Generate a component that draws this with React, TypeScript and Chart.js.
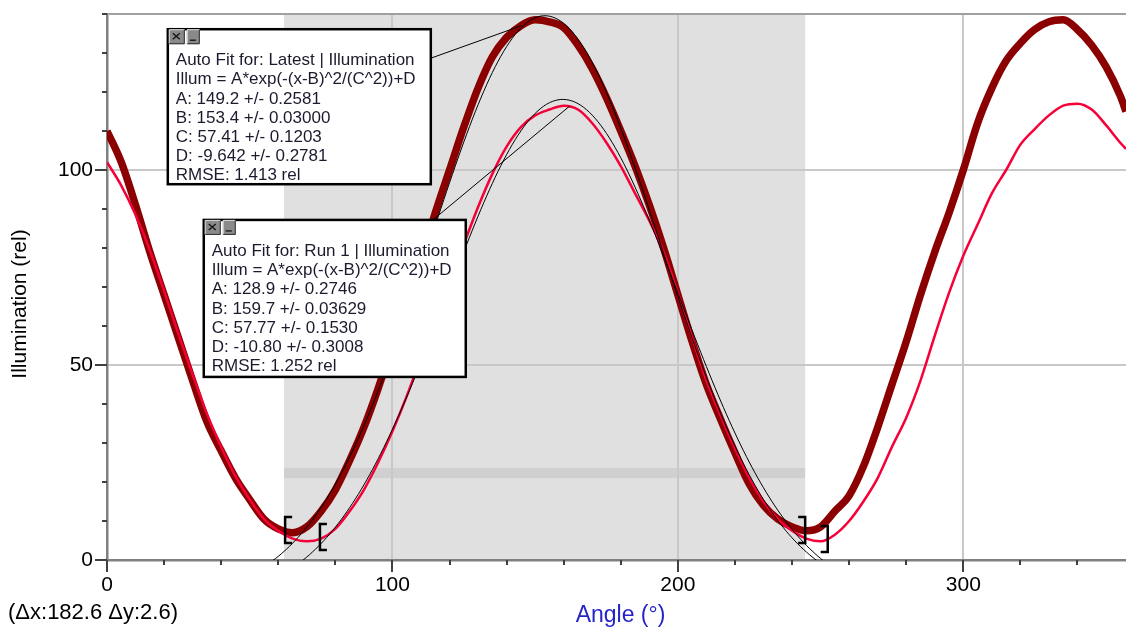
import React, { useEffect, useRef } from 'react';
import { Chart, registerables } from 'chart.js';

Chart.register(...registerables);

// ---- data ----
const angles = [0,5,10,15,20,25,30,35,40,45,50,55,60,65,70,75,80,85,90,95,100,105,110,115,120,125,130,135,140,145,150,155,160,165,170,175,180,185,190,195,200,205,210,215,220,225,230,235,240,245,250,255,260,265,270,275,280,285,290,295,300,305,310,315,320,325,330,335,340,345,350,355,357];

const illumLatest = [110,102,91,79,68,57,46,35.5,28,21,15.5,10.5,8,7,8.5,12.5,18,25.5,34,44,55,66,77,89,100,111,121,129,134,137,138.5,138,136.5,132,126,118.5,110,101,91,80,68,56,45,36,27.5,19.5,14,10.5,8.5,7.5,8.5,12.5,16.5,24,34,45,56,68,79,89,100,112,121,128,132.5,136,138,138.5,136,132,126.5,119,115];

const illumRun1 = [102,96,88.5,79.5,69,58,47.5,37.5,29,21.5,15.5,10.5,7.5,5.5,4.8,5.5,8,12.5,18,25,33,42,52,62,72,81,90.5,99,106,111,114,115.5,116.5,115.5,112,107,101,94,87,79,68.5,57,46,37,28.5,21,15,10.5,7.5,5.5,4.8,6.5,10,15,21,29,36.5,46,57.5,68.5,78,86,94,100,106.5,110.5,114,116.5,117,115.5,111.5,107,105.4];

// Fit parameters shown in the boxes: A, B, C, D
const fitLatest = [149.2, 153.4, 57.41, -9.642];
const fitRun1 = [128.9, 159.7, 57.77, -10.80];

const box1Lines = [
  'Auto Fit for: Latest | Illumination',
  'Illum = A*exp(-(x-B)^2/(C^2))+D',
  'A: 149.2 +/- 0.2581',
  'B: 153.4 +/- 0.03000',
  'C: 57.41 +/- 0.1203',
  'D: -9.642 +/- 0.2781',
  'RMSE: 1.413 rel',
];
const box2Lines = [
  'Auto Fit for: Run 1 | Illumination',
  'Illum = A*exp(-(x-B)^2/(C^2))+D',
  'A: 128.9 +/- 0.2746',
  'B: 159.7 +/- 0.03629',
  'C: 57.77 +/- 0.1530',
  'D: -10.80 +/- 0.3008',
  'RMSE: 1.252 rel',
];

const selection = [62.0, 244.6];
const deltaBand = [21.0, 23.6];
const deltaText = '(\u0394x:182.6 \u0394y:2.6)';
const xTitle = 'Angle (\u00B0)';
const yTitle = 'Illumination (rel)';

// annotation anchors (data coordinates)
const box1Anchor = { x: 21.3, y: 136.1, w: 263, h: 155 };
const box2Anchor = { x: 33.9, y: 87.2, w: 262, h: 157 };
const leader1Target = { x: 145.2, y: 137 };
const leader2Target = { x: 162.1, y: 116.4 };
const brackets = [
  { x: 62.4, y: 7.7, open: true },
  { x: 74.6, y: 5.9, open: true },
  { x: 244.6, y: 7.7, open: false },
  { x: 252.5, y: 5.4, open: false },
];

const FONT = '"Liberation Sans", Arial, sans-serif';

function gauss(p: number[], x: number) {
  const [A, B, C, D] = p;
  return A * Math.exp(-((x - B) * (x - B)) / (C * C)) + D;
}

const fitAngles: number[] = [];
for (let a = 0; a <= 357; a += 1) fitAngles.push(a);

function drawButton(ctx: CanvasRenderingContext2D, x: number, y: number, w: number, h: number, glyph: string) {
  ctx.fillStyle = '#8a8a8a';
  ctx.fillRect(x, y, w, h);
  ctx.strokeStyle = '#d8d8d8';
  ctx.lineWidth = 1;
  ctx.beginPath();
  ctx.moveTo(x + 0.5, y + h - 0.5);
  ctx.lineTo(x + 0.5, y + 0.5);
  ctx.lineTo(x + w - 0.5, y + 0.5);
  ctx.stroke();
  ctx.strokeStyle = '#303030';
  ctx.beginPath();
  ctx.moveTo(x + w - 0.5, y + 0.5);
  ctx.lineTo(x + w - 0.5, y + h - 0.5);
  ctx.lineTo(x + 0.5, y + h - 0.5);
  ctx.stroke();
  ctx.strokeStyle = '#111';
  ctx.lineWidth = 1.3;
  ctx.beginPath();
  if (glyph === 'x') {
    ctx.moveTo(x + 4, y + 4);
    ctx.lineTo(x + w - 5, y + h - 5);
    ctx.moveTo(x + w - 5, y + 4);
    ctx.lineTo(x + 4, y + h - 5);
  } else {
    ctx.moveTo(x + 3, y + h - 4);
    ctx.lineTo(x + w - 4, y + h - 4);
  }
  ctx.stroke();
}

function drawBox(ctx: CanvasRenderingContext2D, left: number, top: number, w: number, h: number, lines: string[]) {
  ctx.fillStyle = '#ffffff';
  ctx.fillRect(left, top, w, h);
  ctx.strokeStyle = '#000';
  ctx.lineWidth = 2.5;
  ctx.strokeRect(left, top, w, h);
  drawButton(ctx, left + 1, top, 16, 15, 'x');
  drawButton(ctx, left + 19, top, 13, 15, '_');
  ctx.fillStyle = '#1e1a2e';
  ctx.font = `17px ${FONT}`;
  ctx.textAlign = 'left';
  ctx.textBaseline = 'alphabetic';
  lines.forEach((s, i) => ctx.fillText(s, left + 8, top + 36 + i * 19.2));
}

const overlayPlugin = {
  id: 'overlay',
  beforeDraw(chart: any) {
    const { ctx, chartArea, scales } = chart;
    const x = scales.x, y = scales.y;
    ctx.save();
    const x0 = x.getPixelForValue(selection[0]);
    const x1 = x.getPixelForValue(selection[1]);
    ctx.fillStyle = '#e0e0e0';
    ctx.fillRect(x0, chartArea.top, x1 - x0, chartArea.bottom - chartArea.top);
    const yb0 = y.getPixelForValue(deltaBand[1]);
    const yb1 = y.getPixelForValue(deltaBand[0]);
    ctx.fillStyle = '#d0d0d0';
    ctx.fillRect(x0, yb0, x1 - x0, yb1 - yb0);
    ctx.restore();
  },
  afterDraw(chart: any) {
    const { ctx, chartArea, scales } = chart;
    const x = scales.x, y = scales.y;
    ctx.save();
    // tick marks
    ctx.strokeStyle = '#404040';
    ctx.lineWidth = 2;
    ctx.beginPath();
    for (let v = 0; v <= 140; v += 10) {
      const py = Math.round(y.getPixelForValue(v));
      const len = v % 50 === 0 ? 12 : 5;
      ctx.moveTo(chartArea.left - len, py);
      ctx.lineTo(chartArea.left, py);
    }
    for (let v = 0; v <= 340; v += 20) {
      const px = Math.round(x.getPixelForValue(v));
      const len = v % 100 === 0 ? 12 : 5;
      ctx.moveTo(px, chartArea.bottom);
      ctx.lineTo(px, chartArea.bottom + len);
    }
    ctx.stroke();

    // brackets
    ctx.strokeStyle = '#000';
    ctx.lineWidth = 2.5;
    brackets.forEach((b) => {
      const px = x.getPixelForValue(b.x);
      const py = y.getPixelForValue(b.y);
      const half = 13;
      const s = b.open ? 1 : -1;
      ctx.beginPath();
      ctx.moveTo(px + s * 7, py - half);
      ctx.lineTo(px, py - half);
      ctx.lineTo(px, py + half);
      ctx.lineTo(px + s * 7, py + half);
      ctx.stroke();
    });

    // boxes + leader lines
    const b1l = x.getPixelForValue(box1Anchor.x);
    const b1t = y.getPixelForValue(box1Anchor.y);
    const b2l = x.getPixelForValue(box2Anchor.x);
    const b2t = y.getPixelForValue(box2Anchor.y);
    ctx.strokeStyle = '#000';
    ctx.lineWidth = 1;
    ctx.beginPath();
    ctx.moveTo(b1l + box1Anchor.w, b1t + 29);
    ctx.lineTo(x.getPixelForValue(leader1Target.x), y.getPixelForValue(leader1Target.y));
    ctx.moveTo(b2l + 228, b2t + 1);
    ctx.lineTo(x.getPixelForValue(leader2Target.x), y.getPixelForValue(leader2Target.y));
    ctx.stroke();
    drawBox(ctx, b1l, b1t, box1Anchor.w, box1Anchor.h, box1Lines);
    drawBox(ctx, b2l, b2t, box2Anchor.w, box2Anchor.h, box2Lines);

    // titles
    ctx.fillStyle = '#000';
    ctx.font = `21px ${FONT}`;
    ctx.textAlign = 'center';
    ctx.textBaseline = 'middle';
    ctx.save();
    ctx.translate(20, 304);
    ctx.rotate(-Math.PI / 2);
    ctx.fillText(yTitle, 0, 0);
    ctx.restore();
    ctx.fillStyle = '#2424c8';
    ctx.font = `23px ${FONT}`;
    ctx.fillText(xTitle, (chartArea.left + chartArea.right) / 2 + 4, 616);
    ctx.fillStyle = '#000';
    ctx.font = `22px ${FONT}`;
    ctx.textAlign = 'left';
    ctx.fillText(deltaText, 8, 613);
    ctx.restore();
  },
};

export default function App() {
  const canvasRef = useRef<HTMLCanvasElement | null>(null);

  useEffect(() => {
    document.body.style.margin = '0';
    const canvas = canvasRef.current;
    if (!canvas) return;
    const latestPts = angles.map((a, i) => ({ x: a, y: illumLatest[i] }));
    const run1Pts = angles.map((a, i) => ({ x: a, y: illumRun1[i] }));
    const fit1Pts = fitAngles.map((a) => ({ x: a, y: gauss(fitLatest, a) }));
    const fit2Pts = fitAngles.map((a) => ({ x: a, y: gauss(fitRun1, a) }));

    const chart = new Chart(canvas, {
      type: 'scatter',
      data: {
        datasets: [
          { label: 'Latest fit', data: fit1Pts, showLine: true, borderColor: '#000', borderWidth: 1, pointRadius: 0, tension: 0, order: 0 },
          { label: 'Run 1 fit', data: fit2Pts, showLine: true, borderColor: '#000', borderWidth: 1, pointRadius: 0, tension: 0, order: 1 },
          { label: 'Run 1', data: run1Pts, showLine: true, borderColor: '#f50038', borderWidth: 2.5, pointRadius: 0, cubicInterpolationMode: 'monotone', order: 2 },
          { label: 'Latest', data: latestPts, showLine: true, borderColor: '#8b0000', borderWidth: 7.5, pointRadius: 0, cubicInterpolationMode: 'monotone', order: 3 },
        ],
      },
      options: {
        animation: false,
        responsive: false,
        maintainAspectRatio: false,
        layout: { padding: { top: 14, left: 0, right: 0, bottom: 0 } },
        plugins: { legend: { display: false }, tooltip: { enabled: false } },
        scales: {
          x: {
            type: 'linear',
            min: 0,
            max: 357,
            afterFit: (s: any) => { s.height = 68; s.paddingLeft = 0; s.paddingRight = 0; },
            border: { display: true, color: '#808080', width: 2.5 },
            grid: {
              drawTicks: false,
              lineWidth: 2,
              color: (c: any) => (c.tick && c.tick.value % 100 === 0 && c.tick.value !== 0 ? '#c8c8c8' : 'rgba(0,0,0,0)'),
            },
            ticks: {
              stepSize: 20,
              includeBounds: false,
              autoSkip: false,
              maxRotation: 0,
              padding: 13,
              color: '#000',
              font: { family: FONT, size: 21 },
              callback: (v: any) => (Number(v) % 100 === 0 ? String(v) : ''),
            },
          },
          y: {
            type: 'linear',
            min: 0,
            max: 140,
            afterFit: (s: any) => { s.width = 107; s.paddingTop = 0; s.paddingBottom = 0; },
            border: { display: true, color: '#808080', width: 2.5 },
            grid: {
              drawTicks: false,
              lineWidth: 2,
              color: (c: any) => {
                const v = c.tick ? c.tick.value : -1;
                if (v === 140) return '#a0a0a0';
                if (v === 50 || v === 100) return '#c8c8c8';
                return 'rgba(0,0,0,0)';
              },
            },
            ticks: {
              stepSize: 10,
              includeBounds: false,
              autoSkip: false,
              padding: 14,
              color: '#000',
              font: { family: FONT, size: 21 },
              callback: (v: any) => (Number(v) % 50 === 0 ? String(v) : ''),
            },
          },
        },
      },
      plugins: [overlayPlugin],
    });
    return () => chart.destroy();
  }, []);

  return (
    <div style={{ width: 1126, height: 628, position: 'relative', background: '#fff' }}>
      <canvas ref={canvasRef} width={1126} height={628} style={{ display: 'block' }} />
    </div>
  );
}
